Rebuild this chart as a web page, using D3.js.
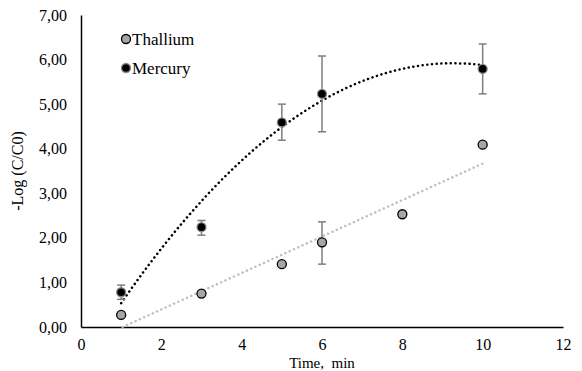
<!DOCTYPE html>
<html>
<head>
<meta charset="utf-8">
<script src="https://cdn.jsdelivr.net/npm/d3@7"></script>
<style>
	body { margin: 0; background: #fff; }
	svg text { font-family: "Liberation Serif", "Times New Roman", serif !important; fill: #000; }
</style>
</head>
<body>
<svg id="chart" width="582" height="371" font-family="Liberation Serif, serif"></svg>
<script>
// Data
var thalliumTime = [1, 3, 5, 6, 8, 10];
var thalliumValue = [0.27, 0.75, 1.41, 1.90, 2.53, 4.09];
// only the point at 6 min has an error bar
var thalliumErrLow = [null, null, null, 1.41, null, null];
var thalliumErrHigh = [null, null, null, 2.36, null, null];

var mercuryTime = [1, 3, 5, 6, 10];
var mercuryValue = [0.78, 2.24, 4.59, 5.23, 5.79];
var mercuryErrLow = [0.62, 2.06, 4.19, 4.38, 5.23];
var mercuryErrHigh = [0.94, 2.39, 5.00, 6.08, 6.35];

// polynomial trendline of Mercury (c0 + c1 x + c2 x^2)
var mercuryTrendCoef = [-0.846, 1.461, -0.0789];
var mercuryTrendRange = [1, 10];

var xTicks = [0, 2, 4, 6, 8, 10, 12];
var yTicks = [0, 1, 2, 3, 4, 5, 6, 7];
var seriesNames = ["Thallium", "Mercury"];

var svg = d3.select("#chart");
var FONT = "Liberation Serif, Times New Roman, serif";

var margin = { left: 81, right: 563, top: 15, bottom: 327 };

var x = d3.scaleLinear().domain([0, 12]).range([margin.left, margin.right]);
var y = d3.scaleLinear().domain([0, 7]).range([margin.bottom, margin.top]);

var fmt = function (d) { return d3.format(".2f")(d).replace(".", ","); };

// axes
var xAxis = svg.append("g")
	.attr("transform", "translate(0," + margin.bottom + ")")
	.call(d3.axisBottom(x).tickValues(xTicks).tickSize(0).tickPadding(12).tickFormat(d3.format("d")));
var yAxis = svg.append("g")
	.attr("transform", "translate(" + margin.left + ",0)")
	.call(d3.axisLeft(y).tickValues(yTicks).tickSize(0).tickPadding(14).tickFormat(fmt));

[xAxis, yAxis].forEach(function (a) {
	a.attr("font-family", FONT).attr("font-size", 16);
	a.select(".domain").attr("stroke", "#000").attr("stroke-width", 1.5);
	a.selectAll("text").attr("font-family", FONT).attr("font-size", 16);
});

svg.append("text")
	.attr("x", (x(0) + x(12)) / 2)
	.attr("y", 368)
	.attr("text-anchor", "middle")
	.attr("font-family", FONT)
	.attr("font-size", 15)
	.attr("xml:space", "preserve")
	.text("Time,  min");

svg.append("text")
	.attr("transform", "translate(23," + ((y(0) + y(7)) / 2) + ") rotate(-90)")
	.attr("text-anchor", "middle")
	.attr("font-family", FONT)
	.attr("font-size", 16)
	.text("-Log (C/C0)");

// linear trendline for Thallium (least squares, clipped at y = 0)
function linearFit(xs, ys) {
	var mx = d3.mean(xs), my = d3.mean(ys);
	var sxy = d3.sum(xs, function (v, i) { return (v - mx) * (ys[i] - my); });
	var sxx = d3.sum(xs, function (v) { return (v - mx) * (v - mx); });
	var b = sxy / sxx;
	return { a: my - b * mx, b: b };
}

var lin = linearFit(thalliumTime, thalliumValue);

var line = d3.line().x(function (d) { return x(d[0]); }).y(function (d) { return y(d[1]); });

var tStart = Math.max(1, -lin.a / lin.b);
var thalliumTrend = [[tStart, lin.a + lin.b * tStart], [10, lin.a + lin.b * 10]];

var mercuryTrend = d3.range(0, 91).map(function (i) {
	var t = mercuryTrendRange[0] + (mercuryTrendRange[1] - mercuryTrendRange[0]) * i / 90;
	var c = mercuryTrendCoef;
	return [t, c[0] + c[1] * t + c[2] * t * t];
});

svg.append("path")
	.attr("d", line(thalliumTrend))
	.attr("fill", "none")
	.attr("stroke", "#bfbfbf")
	.attr("stroke-width", 2.5)
	.attr("stroke-linecap", "round")
	.attr("stroke-dasharray", "0.1,4.6");

svg.append("path")
	.attr("d", line(mercuryTrend))
	.attr("fill", "none")
	.attr("stroke", "#000")
	.attr("stroke-width", 2.5)
	.attr("stroke-linecap", "round")
	.attr("stroke-dasharray", "0.1,4.6");

// error bars
function errorBars(xs, lo, hi) {
	var g = svg.append("g").attr("stroke", "#7f7f7f").attr("stroke-width", 1.5);
	xs.forEach(function (t, i) {
		if (lo[i] == null) return;
		g.append("line").attr("x1", x(t)).attr("x2", x(t)).attr("y1", y(lo[i])).attr("y2", y(hi[i]));
		[lo[i], hi[i]].forEach(function (v) {
			g.append("line").attr("x1", x(t) - 4).attr("x2", x(t) + 4).attr("y1", y(v)).attr("y2", y(v));
		});
	});
}
errorBars(thalliumTime, thalliumErrLow, thalliumErrHigh);
errorBars(mercuryTime, mercuryErrLow, mercuryErrHigh);

// points
svg.append("g").selectAll("circle")
	.data(thalliumTime)
	.enter()
	.append("circle")
	.attr("cx", function (d) { return x(d); })
	.attr("cy", function (d, i) { return y(thalliumValue[i]); })
	.attr("r", 4.5)
	.attr("fill", "#a6a6a6")
	.attr("stroke", "#000")
	.attr("stroke-width", 1.3);

svg.append("g").selectAll("circle")
	.data(mercuryTime)
	.enter()
	.append("circle")
	.attr("cx", function (d) { return x(d); })
	.attr("cy", function (d, i) { return y(mercuryValue[i]); })
	.attr("r", 4.5)
	.attr("fill", "#000")
	.attr("stroke", "#8c8c8c")
	.attr("stroke-width", 1.3);

// legend
var legend = svg.append("g");
seriesNames.forEach(function (name, i) {
	var ly = 39 + i * 29;
	legend.append("circle")
		.attr("cx", 126)
		.attr("cy", ly)
		.attr("r", 4.5)
		.attr("fill", i == 0 ? "#a6a6a6" : "#000")
		.attr("stroke", i == 0 ? "#000" : "#8c8c8c")
		.attr("stroke-width", 1.3);
	legend.append("text")
		.attr("x", 132)
		.attr("y", ly + 6)
		.attr("font-family", FONT)
		.attr("font-size", 17)
		.text(name);
});
</script>
</body>
</html>
